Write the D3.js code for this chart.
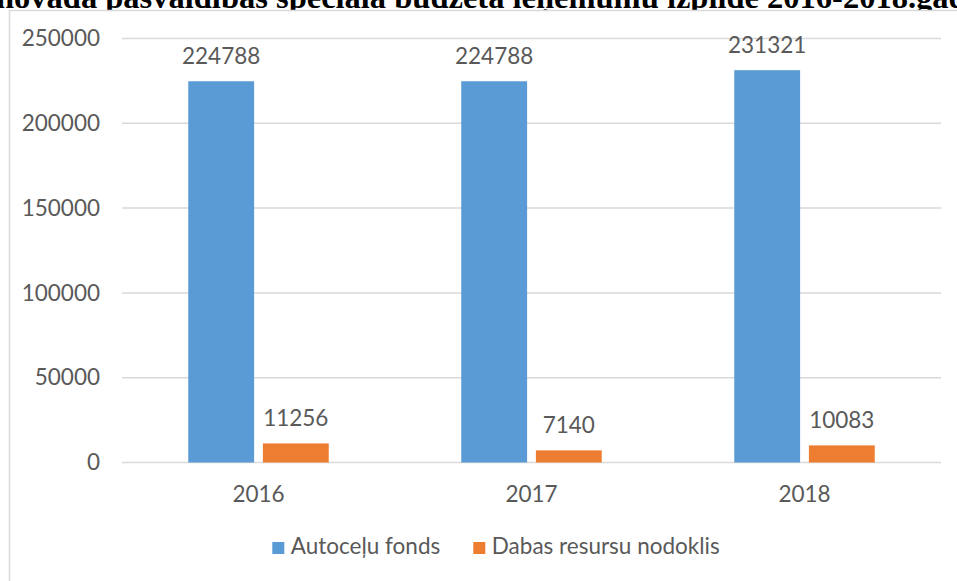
<!DOCTYPE html>
<html><head><meta charset="utf-8">
<script src="https://cdn.jsdelivr.net/npm/d3@7"></script>
<style>html,body{margin:0;padding:0;background:#fff;overflow:hidden}</style>
</head><body>
<svg id="c" width="957" height="581"></svg>
<script>
const titleText = "novada pašvaldības speciālā budžeta ieņēmumu izpilde 2016-2018.gads";
const categories = ["2016", "2017", "2018"];
const seriesNames = ["Autoceļu fonds", "Dabas resursu nodoklis"];
const autoceluFonds = [224788, 224788, 231321];
const dabasResursuNodoklis = [11256, 7140, 10083];
const yTicks = [0, 50000, 100000, 150000, 200000, 250000];
const colors = ["#5B9BD5", "#ED7D31"];

const series = [autoceluFonds, dabasResursuNodoklis];
const svg = d3.select("#c");
const font = "Lato, 'Open Sans', sans-serif";
const fs = 22.5;
const textColor = "#595959";

// title (clipped at top, partly hidden behind chart area)
svg.append("text").attr("x", -4).attr("y", 7.5)
  .attr("font-family", "'Liberation Serif', 'Times New Roman', serif")
  .attr("font-weight", "bold").attr("font-size", 32.5).attr("fill", "#000")
  .text(titleText);

// chart border
svg.append("rect").attr("x", 9.5).attr("y", 10.5).attr("width", 1000).attr("height", 1000)
  .attr("fill", "#fff").attr("stroke", "#d9d9d9").attr("stroke-width", 1.5);

const x0 = d3.scaleBand().domain(categories).range([122, 941]).padding(0);
const y = d3.scaleLinear().domain([0, 250000]).range([462.5, 38.5]);

// grid
svg.append("g").selectAll("line").data(yTicks).join("line")
  .attr("x1", 122).attr("x2", 941)
  .attr("y1", d => y(d)).attr("y2", d => y(d))
  .attr("stroke", "#d9d9d9").attr("stroke-width", 1.5);

// y axis labels
const yAxis = d3.axisLeft(y).tickValues(yTicks).tickSize(0).tickPadding(22).tickFormat(d3.format("d"));
const gy = svg.append("g").attr("transform", "translate(122,0)").call(yAxis);
gy.select(".domain").remove();
gy.selectAll("text").attr("font-family", font).attr("font-size", fs).attr("fill", textColor);

// bars
const bw = 62, gap = 16.5;
const x1 = d3.scaleBand().domain([0, 1]).range([0, 2 * bw + gap]).paddingInner(gap / (2 * bw + gap));
const groupOffset = (x0.bandwidth() - (2 * bw + gap)) / 2;

categories.forEach((c, i) => {
  series.forEach((s, k) => {
    const bx = x0(c) + groupOffset + x1(k);
    svg.append("rect").attr("x", bx).attr("y", y(s[i]))
      .attr("width", x1.bandwidth()).attr("height", y(0) - y(s[i]))
      .attr("fill", colors[k]);
    svg.append("text").attr("x", bx + x1.bandwidth() / 2).attr("y", y(s[i]) - 17.5)
      .attr("text-anchor", "middle").attr("font-family", font).attr("font-size", fs)
      .attr("fill", textColor).text(s[i]);
  });
});

// x axis
const xAxis = d3.axisBottom(x0).tickSize(0).tickPadding(0);
const gx = svg.append("g").call(xAxis);
gx.select(".domain").remove();
gx.selectAll("text").attr("y", 502).attr("dy", null).attr("font-family", font).attr("font-size", fs).attr("fill", textColor);

// legend
const legendX = [272.3, 473.3];
seriesNames.forEach((n, k) => {
  svg.append("rect").attr("x", legendX[k]).attr("y", 542).attr("width", 12).attr("height", 12).attr("fill", colors[k]);
  svg.append("text").attr("x", legendX[k] + 18.5).attr("y", 554)
    .attr("font-family", font).attr("font-size", fs).attr("fill", textColor).text(n);
});
</script>
</body></html>
